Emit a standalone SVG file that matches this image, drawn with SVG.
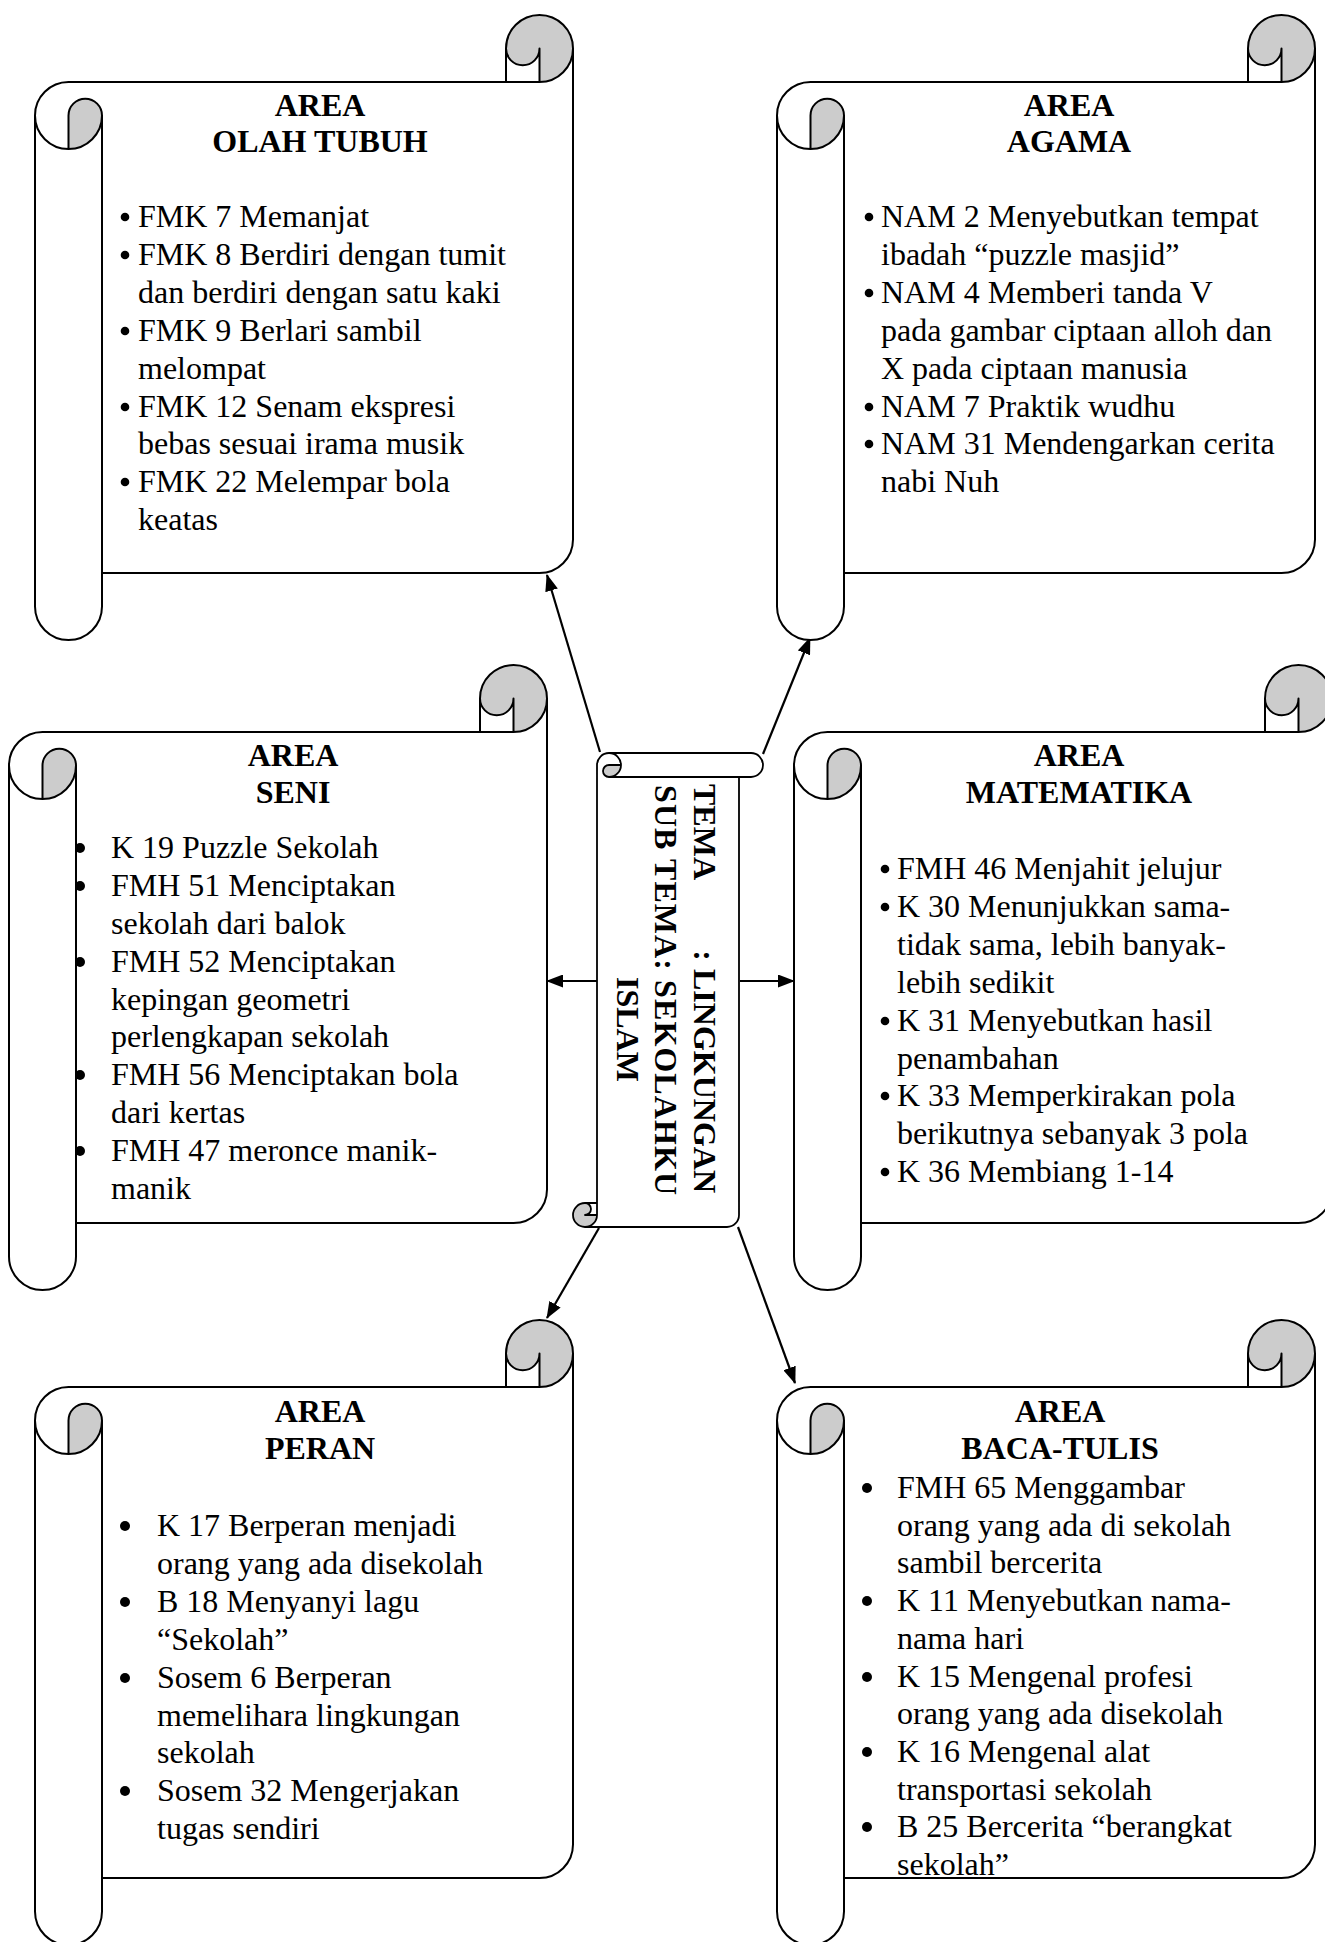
<svg xmlns="http://www.w3.org/2000/svg" xmlns:xlink="http://www.w3.org/1999/xlink" width="1325" height="1942" viewBox="0 0 1325 1942">
<style>
.sf{fill:#ffffff;stroke:none}
.sg{fill:#cccccc;stroke:none}
.sl{fill:none;stroke:#000;stroke-width:2;stroke-linejoin:round}
.sls{fill:none;stroke:#000;stroke-width:1.8;stroke-linejoin:round}
.title{font-family:"Liberation Serif","Times New Roman",serif;font-size:32px;font-weight:bold;text-anchor:middle;fill:#000}
.body{font-family:"Liberation Serif","Times New Roman",serif;font-size:32px;fill:#000}
.center{font-family:"Liberation Serif","Times New Roman",serif;font-size:32px;font-weight:bold;fill:#000}
.conn{fill:none;stroke:#000;stroke-width:2.2;marker-end:url(#arrow)}
</style>
<defs>
<marker id="arrow" markerUnits="userSpaceOnUse" markerWidth="17" markerHeight="13" viewBox="0 0 17 13" refX="16" refY="6.5" orient="auto">
<path d="M0,0 L17,6.5 L0,13 Z" fill="#000"/>
</marker>
<g id="scroll">
<path class="sf" d="M538,33.5 A33.5,33.5 0 0 1 504.5,67 L504.5,33.5 A16.75,16.75 0 0 1 471,33.5 L471,67 L33.5,67 A33.5,33.5 0 0 0 0,100.5 L0,591.5 A33.5,33.5 0 0 0 67,591.5 L67,558 L504.5,558 A33.5,33.5 0 0 0 538,524.5 Z"/>
<path class="sg" d="M33.5,134 A33.5,33.5 0 0 0 67,100.5 A16.75,16.75 0 0 0 33.5,100.5 Z"/>
<path class="sg" d="M504.5,67 A33.5,33.5 0 1 0 471,33.5 A16.75,16.75 0 0 0 504.5,33.5 Z"/>
<path class="sl" d="M0,100.5 A33.5,33.5 0 0 1 33.5,67 L471,67 L471,33.5 A33.5,33.5 0 0 1 538,33.5 L538,524.5 A33.5,33.5 0 0 1 504.5,558 L67,558 L67,591.5 A33.5,33.5 0 0 1 0,591.5 Z M471,67 L504.5,67 A33.5,33.5 0 0 0 538,33.5 M504.5,67 L504.5,33.5 A16.75,16.75 0 0 1 471,33.5 M33.5,134 L33.5,100.5 A16.75,16.75 0 0 1 67,100.5 A33.5,33.5 0 0 1 0,100.5 M67,100.5 L67,558"/>
</g>
<g id="scroll-small">
<path class="sf" d="M474,12 A12,12 0 0 1 462,24 L462,12 A6,6 0 0 1 450,12 L450,24 L12,24 A12,12 0 0 0 0,36 L0,178 A12,12 0 0 0 24,178 L24,166 L462,166 A12,12 0 0 0 474,154 Z"/>
<path class="sg" d="M12,48 A12,12 0 0 0 24,36 A6,6 0 0 0 12,36 Z"/>
<path class="sg" d="M462,24 A12,12 0 1 0 450,12 A6,6 0 0 0 462,12 Z"/>
<path class="sls" d="M0,36 A12,12 0 0 1 12,24 L450,24 L450,12 A12,12 0 0 1 474,12 L474,154 A12,12 0 0 1 462,166 L24,166 L24,178 A12,12 0 0 1 0,178 Z M450,24 L462,24 A12,12 0 0 0 474,12 M462,24 L462,12 A6,6 0 0 1 450,12 M12,48 L12,36 A6,6 0 0 1 24,36 A12,12 0 0 1 0,36 M24,36 L24,166"/>
</g>
</defs>
<rect width="1325" height="1942" fill="#ffffff"/>

<g id="connectors">
<line class="conn" x1="600" y1="752" x2="547" y2="575"/>
<line class="conn" x1="763" y1="754" x2="810" y2="638"/>
<line class="conn" x1="597" y1="981" x2="547" y2="981"/>
<line class="conn" x1="740" y1="981" x2="794" y2="981"/>
<line class="conn" x1="599" y1="1228" x2="547" y2="1318"/>
<line class="conn" x1="738" y1="1227" x2="795" y2="1383"/>
</g>

<g id="area-olah-tubuh">
<use xlink:href="#scroll" href="#scroll" x="35" y="15"/>
<text class="title"><tspan x="320" y="116">AREA</tspan><tspan x="320" y="152">OLAH TUBUH</tspan></text>
<g fill="#000"><circle cx="125" cy="217" r="4.3"/><circle cx="125" cy="255" r="4.3"/><circle cx="125" cy="331" r="4.3"/><circle cx="125" cy="407" r="4.3"/><circle cx="125" cy="482" r="4.3"/></g>
<text class="body"><tspan x="138" y="227">FMK 7 Memanjat</tspan><tspan x="138" y="265">FMK 8 Berdiri dengan tumit</tspan><tspan x="138" y="303">dan berdiri dengan satu kaki</tspan><tspan x="138" y="341">FMK 9 Berlari sambil</tspan><tspan x="138" y="379">melompat</tspan><tspan x="138" y="417">FMK 12 Senam ekspresi</tspan><tspan x="138" y="454">bebas sesuai irama musik</tspan><tspan x="138" y="492">FMK 22 Melempar bola</tspan><tspan x="138" y="530">keatas</tspan></text>
</g>

<g id="area-agama">
<use xlink:href="#scroll" href="#scroll" x="777" y="15"/>
<text class="title"><tspan x="1069" y="116">AREA</tspan><tspan x="1069" y="152">AGAMA</tspan></text>
<g fill="#000"><circle cx="869" cy="217" r="4.3"/><circle cx="869" cy="293" r="4.3"/><circle cx="869" cy="407" r="4.3"/><circle cx="869" cy="444" r="4.3"/></g>
<text class="body"><tspan x="881" y="227">NAM 2 Menyebutkan tempat</tspan><tspan x="881" y="265">ibadah “puzzle masjid”</tspan><tspan x="881" y="303">NAM 4 Memberi tanda V</tspan><tspan x="881" y="341">pada gambar ciptaan alloh dan</tspan><tspan x="881" y="379">X pada ciptaan manusia</tspan><tspan x="881" y="417">NAM 7 Praktik wudhu</tspan><tspan x="881" y="454">NAM 31 Mendengarkan cerita</tspan><tspan x="881" y="492">nabi Nuh</tspan></text>
</g>

<g id="area-seni">
<use xlink:href="#scroll" href="#scroll" x="9" y="665"/>
<text class="title"><tspan x="293" y="766">AREA</tspan><tspan x="293" y="803">SENI</tspan></text>
<g fill="#000"><circle cx="80" cy="848" r="5"/><circle cx="80" cy="886" r="5"/><circle cx="80" cy="962" r="5"/><circle cx="80" cy="1075" r="5"/><circle cx="80" cy="1151" r="5"/></g>
<text class="body"><tspan x="111" y="858">K 19 Puzzle Sekolah</tspan><tspan x="111" y="896">FMH 51 Menciptakan</tspan><tspan x="111" y="934">sekolah dari balok</tspan><tspan x="111" y="972">FMH 52 Menciptakan</tspan><tspan x="111" y="1010">kepingan geometri</tspan><tspan x="111" y="1047">perlengkapan sekolah</tspan><tspan x="111" y="1085">FMH 56 Menciptakan bola</tspan><tspan x="111" y="1123">dari kertas</tspan><tspan x="111" y="1161">FMH 47 meronce manik-</tspan><tspan x="111" y="1199">manik</tspan></text>
</g>

<g id="area-matematika">
<use xlink:href="#scroll" href="#scroll" x="794" y="665"/>
<text class="title"><tspan x="1079" y="766">AREA</tspan><tspan x="1079" y="803">MATEMATIKA</tspan></text>
<g fill="#000"><circle cx="885" cy="869" r="4.3"/><circle cx="885" cy="907" r="4.3"/><circle cx="885" cy="1021" r="4.3"/><circle cx="885" cy="1096" r="4.3"/><circle cx="885" cy="1172" r="4.3"/></g>
<text class="body"><tspan x="897" y="879">FMH 46 Menjahit jelujur</tspan><tspan x="897" y="917">K 30 Menunjukkan sama-</tspan><tspan x="897" y="955">tidak sama, lebih banyak-</tspan><tspan x="897" y="993">lebih sedikit</tspan><tspan x="897" y="1031">K 31 Menyebutkan hasil</tspan><tspan x="897" y="1069">penambahan</tspan><tspan x="897" y="1106">K 33 Memperkirakan pola</tspan><tspan x="897" y="1144">berikutnya sebanyak 3 pola</tspan><tspan x="897" y="1182">K 36 Membiang 1-14</tspan></text>
</g>

<g id="area-peran">
<use xlink:href="#scroll" href="#scroll" x="35" y="1320"/>
<text class="title"><tspan x="320" y="1422">AREA</tspan><tspan x="320" y="1459">PERAN</tspan></text>
<g fill="#000"><circle cx="125" cy="1526" r="5"/><circle cx="125" cy="1602" r="5"/><circle cx="125" cy="1678" r="5"/><circle cx="125" cy="1791" r="5"/></g>
<text class="body"><tspan x="157" y="1536">K 17 Berperan menjadi</tspan><tspan x="157" y="1574">orang yang ada disekolah</tspan><tspan x="157" y="1612">B 18 Menyanyi lagu</tspan><tspan x="157" y="1650">“Sekolah”</tspan><tspan x="157" y="1688">Sosem 6 Berperan</tspan><tspan x="157" y="1726">memelihara lingkungan</tspan><tspan x="157" y="1763">sekolah</tspan><tspan x="157" y="1801">Sosem 32 Mengerjakan</tspan><tspan x="157" y="1839">tugas sendiri</tspan></text>
</g>

<g id="area-baca-tulis">
<use xlink:href="#scroll" href="#scroll" x="777" y="1320"/>
<text class="title"><tspan x="1060" y="1422">AREA</tspan><tspan x="1060" y="1459">BACA-TULIS</tspan></text>
<g fill="#000"><circle cx="867" cy="1488" r="5"/><circle cx="867" cy="1601" r="5"/><circle cx="867" cy="1677" r="5"/><circle cx="867" cy="1752" r="5"/><circle cx="867" cy="1827" r="5"/></g>
<text class="body"><tspan x="897" y="1498">FMH 65 Menggambar</tspan><tspan x="897" y="1536">orang yang ada di sekolah</tspan><tspan x="897" y="1573">sambil bercerita</tspan><tspan x="897" y="1611">K 11 Menyebutkan nama-</tspan><tspan x="897" y="1649">nama hari</tspan><tspan x="897" y="1687">K 15 Mengenal profesi</tspan><tspan x="897" y="1724">orang yang ada disekolah</tspan><tspan x="897" y="1762">K 16 Mengenal alat</tspan><tspan x="897" y="1800">transportasi sekolah</tspan><tspan x="897" y="1837">B 25 Bercerita “berangkat</tspan><tspan x="897" y="1875">sekolah”</tspan></text>
</g>

<g id="tema">
<use xlink:href="#scroll-small" href="#scroll-small" transform="matrix(0,1,1,0,573,753)"/>
<text class="center" transform="translate(694,784) rotate(90)" x="0" y="0">TEMA</text>
<text class="center" transform="translate(694,1193) rotate(90)" x="0" y="0" text-anchor="end">: LINGKUNGAN</text>
<text class="center" transform="translate(655,785) rotate(90)" x="0" y="0" textLength="410" lengthAdjust="spacing">SUB TEMA: SEKOLAHKU</text>
<text class="center" transform="translate(617,977) rotate(90)" x="0" y="0">ISLAM</text>
</g>
</svg>
